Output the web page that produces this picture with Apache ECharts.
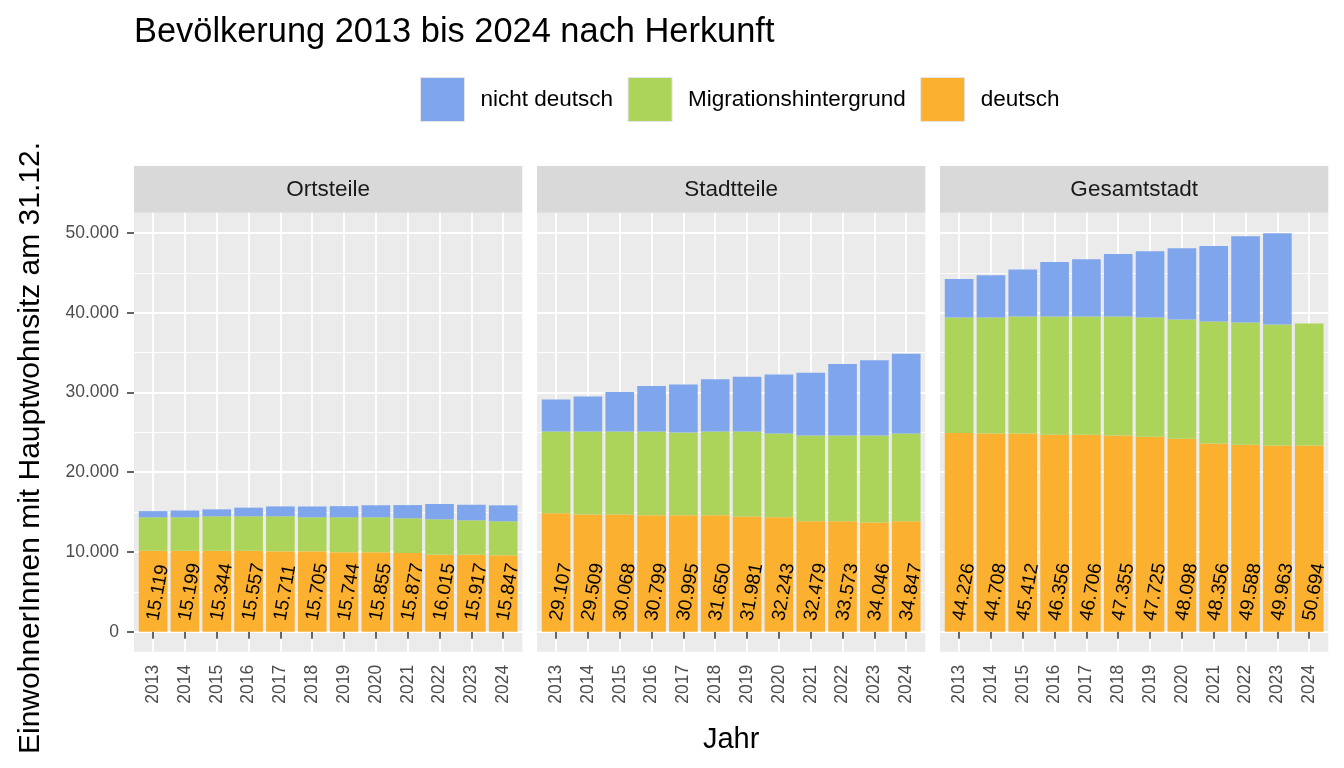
<!DOCTYPE html>
<html>
<head>
<meta charset="utf-8">
<script src="https://cdn.jsdelivr.net/npm/echarts@6/dist/echarts.min.js"></script>
<style>
html,body{margin:0;padding:0;background:#fff;}
#chart{width:1344px;height:768px;}
</style>
</head>
<body>
<div id="chart"></div>
<script>
const years = ['2013','2014','2015','2016','2017','2018','2019','2020','2021','2022','2023','2024'];
const panels = ['Ortsteile','Stadtteile','Gesamtstadt'];
const seriesNames = ['deutsch','Migrationshintergrund','nicht deutsch'];
const legendOrder = ['nicht deutsch','Migrationshintergrund','deutsch'];
const yTicks = [0,10000,20000,30000,40000,50000];

const ortsDeutsch = [10165,10165,10165,10165,10080,10080,9955,9955,9870,9660,9660,9575];
const ortsMigration = [4180,4180,4305,4305,4390,4265,4390,4390,4350,4434,4308,4268];
const ortsNichtDeutsch = [774,854,874,1087,1241,1360,1399,1510,1657,1921,1949,2004];
const ortsTotal = [15119,15199,15344,15557,15711,15705,15744,15855,15877,16015,15917,15847];

const stadtDeutsch = [14847,14684,14684,14596,14596,14596,14433,14345,13843,13843,13680,13843];
const stadtMigration = [10253,10416,10416,10504,10379,10504,10667,10504,10755,10755,10918,11006];
const stadtNichtDeutsch = [4007,4409,4968,5699,6020,6550,6881,7394,7881,8975,9448,9998];
const stadtTotal = [29107,29509,30068,30799,30995,31650,31981,32243,32479,33573,34046,34847];

const gesamtDeutsch = [24930,24850,24850,24700,24700,24620,24450,24200,23610,23450,23360,23340];
const gesamtMigration = [14477,14557,14683,14833,14833,14913,14957,14956,15295,15330,15169,15314];
const gesamtNichtDeutsch = [4819,5301,5879,6823,7173,7822,8318,8942,9451,10808,11434,null];
const gesamtTotal = [44226,44708,45412,46356,46706,47355,47725,48098,48356,49588,49963,50694];

const panelData = [
  [ortsDeutsch, ortsMigration, ortsNichtDeutsch, ortsTotal],
  [stadtDeutsch, stadtMigration, stadtNichtDeutsch, stadtTotal],
  [gesamtDeutsch, gesamtMigration, gesamtNichtDeutsch, gesamtTotal]
];

const colors = {'deutsch':'#FBB12F','Migrationshintergrund':'#ADD45A','nicht deutsch':'#7FA6EC'};

function de(n){
  const s = String(Math.round(Math.abs(n)));
  return (n<0?'-':'') + s.replace(/\B(?=(\d{3})+(?!\d))/g,'.');
}

// layout (pixels)
const FONT = '"Liberation Sans", Arial, sans-serif';
const panelLefts = [134, 537, 940];
const panelW = 388.3;
const panelTop = 212.7, panelBottom = 651.7;
const y0 = 631.7, y50 = 233;
const pxPerUnit = (y0 - y50) / 50000;
const yMinB = -(panelBottom - y0) / pxPerUnit;
const yMaxB = (y0 - panelTop) / pxPerUnit;
const unit = panelW / 12.2;

const grid = [], xAxis = [], yAxis = [], series = [], graphic = [];
panels.forEach((p, i) => {
  const L = panelLefts[i];
  // P: background
  grid.push({left: L, top: panelTop, width: panelW, height: panelBottom - panelTop, show: true, backgroundColor: '#EBEBEB', borderWidth: 0, z: 0});
  xAxis.push({gridIndex: 3*i, type: 'value', show: false, min: 0, max: 1});
  yAxis.push({gridIndex: 3*i, type: 'value', show: false, min: 0, max: 1});
  // G: horizontal gridlines and y labels
  grid.push({left: L, top: y50, width: panelW, height: y0 - y50, show: false});
  xAxis.push({gridIndex: 3*i+1, type: 'value', show: false, min: 0, max: 1});
  yAxis.push({gridIndex: 3*i+1, type: 'value', min: 0, max: 50000, interval: 10000,
    axisLine: {show: false},
    axisTick: {show: i === 0, length: 7, lineStyle: {color: '#333333', width: 1.5}},
    axisLabel: {show: i === 0, margin: 15, fontSize: 17.5, color: '#4D4D4D', fontFamily: FONT, formatter: v => de(v)},
    splitLine: {show: true, lineStyle: {color: '#FFFFFF', width: 1.8}},
    minorTick: {show: false, splitNumber: 2},
    minorSplitLine: {show: true, lineStyle: {color: '#FFFFFF', width: 0.9}}
  });
  // B: bars, vertical lines, x labels
  grid.push({left: L + 0.6*unit, top: panelTop, width: 11*unit, height: panelBottom - panelTop, show: false});
  xAxis.push({gridIndex: 3*i+2, type: 'category', data: years, boundaryGap: false,
    axisLine: {show: false},
    axisTick: {show: true, length: 7, interval: 0, lineStyle: {color: '#333333', width: 1.5}},
    axisLabel: {interval: 0, rotate: 90, margin: 13, fontSize: 17.5, color: '#4D4D4D', fontFamily: FONT},
    splitLine: {show: true, interval: 0, lineStyle: {color: '#FFFFFF', width: 1.8}}
  });
  yAxis.push({gridIndex: 3*i+2, type: 'value', show: false, min: yMinB, max: yMaxB, splitLine: {show: false}});

  const d = panelData[i];
  const totals = d[3];
  seriesNames.forEach((name, k) => {
    const s = {
      name: name, type: 'bar', stack: 'p' + i,
      xAxisIndex: 3*i+2, yAxisIndex: 3*i+2,
      data: d[k], barWidth: 0.9*unit, clip: false,
      itemStyle: {color: colors[name]},
      emphasis: {disabled: true},
      z: 3
    };
    if (k === 0) {
      s.label = {show: true, position: 'insideBottom', distance: 11, rotate: 80,
        align: 'left', verticalAlign: 'middle',
        fontSize: 19, color: '#000000', fontFamily: FONT,
        formatter: prm => de(totals[prm.dataIndex])};
    }
    series.push(s);
  });

  // strip
  graphic.push({type: 'rect', shape: {x: L, y: 166, width: panelW, height: panelTop - 166}, style: {fill: '#D9D9D9'}, silent: true});
  graphic.push({type: 'text', x: L + panelW/2, y: (166 + panelTop)/2, style: {text: p, fontSize: 22.5, fill: '#1A1A1A', fontFamily: FONT, align: 'center', verticalAlign: 'middle'}, silent: true});
});

graphic.push({type: 'text', x: (134 + 940 + panelW)/2, y: 740, style: {text: 'Jahr', fontSize: 29, fill: '#000000', fontFamily: FONT, align: 'center', verticalAlign: 'middle'}});
graphic.push({type: 'text', x: 31, y: 448, rotation: Math.PI/2, style: {text: 'EinwohnerInnen mit Hauptwohnsitz am 31.12.', fontSize: 30, fill: '#000000', fontFamily: FONT, align: 'center', verticalAlign: 'middle'}});

const chart = echarts.init(document.getElementById('chart'), null, {renderer: 'canvas'});
chart.setOption({
  animation: false,
  backgroundColor: '#FFFFFF',
  title: {text: 'Bevölkerung 2013 bis 2024 nach Herkunft', left: 129, top: 11, textStyle: {fontSize: 34.4, fontWeight: 'normal', color: '#000000', fontFamily: FONT}},
  legend: {data: legendOrder, left: 415, top: 72, itemWidth: 44, itemHeight: 44, itemGap: 14.5, icon: 'rect',
    itemStyle: {borderColor: '#E5E5E5', borderWidth: 1},
    textStyle: {fontSize: 22.5, color: '#000000', fontFamily: FONT, padding: [0,0,0,11]}},
  grid: grid, xAxis: xAxis, yAxis: yAxis, series: series, graphic: graphic
});
</script>
</body>
</html>
